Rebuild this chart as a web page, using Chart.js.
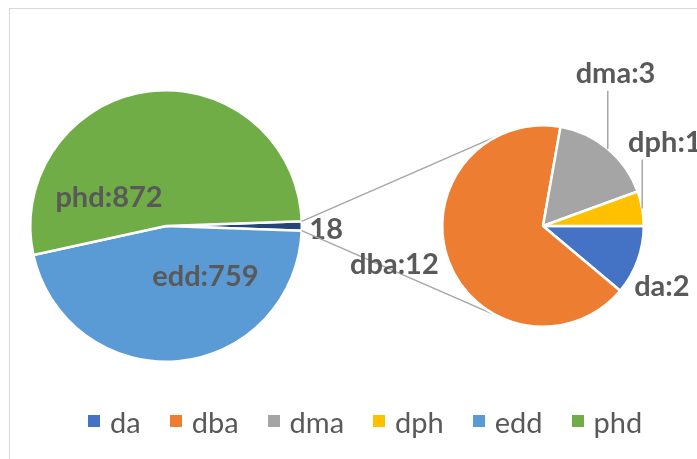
<!DOCTYPE html>
<html>
<head>
<meta charset="utf-8">
<script src="https://cdn.jsdelivr.net/npm/chart.js@4.4.1/dist/chart.umd.min.js"></script>
<style>
  html, body { margin: 0; padding: 0; background: #fff; }
  #wrap { position: relative; width: 697px; height: 459px; overflow: hidden; font-family: Lato, sans-serif; }
  /* light grey chart border, cut off on the right and bottom like the screenshot */
  #frame { position: absolute; left: 9px; top: 8px; width: 800px; height: 600px; border: 1.5px solid #d9d9d9; }
  canvas { position: absolute; left: 0; top: 0; }
  #legend { position: absolute; left: 88px; top: 404px; height: 34px; display: flex; align-items: center; color: #595959; font-size: 29px; }
  .item { display: flex; align-items: center; margin-right: 29px; }
  .box { width: 12px; height: 12px; margin-right: 10px; }
</style>
</head>
<body>
<div id="wrap">
  <div id="frame"></div>
  <canvas id="mainPie" width="697" height="459"></canvas>
  <canvas id="subPie" width="697" height="459"></canvas>
  <div id="legend"></div>
</div>
<script>
// ---------------- DATA ----------------
// second plot (small pie on the right)
const subLabels = ['da', 'dba', 'dma', 'dph'];
const subValues = [2, 12, 3, 1];
// first plot, the first slice is the sum of the second plot
const mainLabels = ['other', 'edd', 'phd'];
const mainValues = [18, 759, 872];
// legend order as in the workbook
const legendOrder = ['da', 'dba', 'dma', 'dph', 'edd', 'phd'];

const colors = {
    da: '#4472C4', dba: '#ED7D31', dma: '#A5A5A5', dph: '#FFC000',
    edd: '#5B9BD5', phd: '#70AD47', other: '#264478'
};

const labelFont = 'bold 29px Lato';
const textGrey = '#595959';
const lineGrey = '#a6a6a6';

// ---------------- LABELS ----------------
// spots are offsets from the pie centre in units of the radius
// leaders: draw a vertical line from under the label down to the slice edge
function pieLabels(texts, spots, leaders) {
    return {
        id: 'pieLabels',
        afterDatasetsDraw(chart) {
            const ctx = chart.ctx;
            const arcs = chart.getDatasetMeta(0).data;
            ctx.save();
            ctx.font = labelFont;
            ctx.fillStyle = textGrey;
            ctx.textAlign = 'center';
            ctx.textBaseline = 'middle';
            arcs.forEach((arc, i) => {
                const p = arc.getProps(['x', 'y', 'outerRadius', 'startAngle', 'endAngle'], true);
                const tx = p.x + spots[i][0] * p.outerRadius;
                const ty = p.y + spots[i][1] * p.outerRadius;
                if (leaders && leaders[i]) {
                    const mid = (p.startAngle + p.endAngle) / 2;
                    const ex = p.x + Math.cos(mid) * p.outerRadius;
                    const ey = p.y + Math.sin(mid) * p.outerRadius;
                    ctx.strokeStyle = lineGrey;
                    ctx.lineWidth = 1.5;
                    ctx.beginPath();
                    ctx.moveTo(ex, ty + 17);
                    ctx.lineTo(ex, ey);
                    ctx.stroke();
                }
                ctx.fillText(texts[i], tx, ty);
            });
            ctx.restore();
        }
    };
}

// lines from the corners of the "other" slice to the tangent points of the small pie
const connectors = {
    id: 'connectors',
    beforeDatasetsDraw(chart) {
        const big = Chart.getChart('mainPie');
        if (!big) return;
        const o = big.getDatasetMeta(0).data[0].getProps(['x', 'y', 'outerRadius', 'startAngle', 'endAngle'], true);
        const s = chart.getDatasetMeta(0).data[0].getProps(['x', 'y', 'outerRadius'], true);
        const ctx = chart.ctx;
        ctx.save();
        ctx.strokeStyle = lineGrey;
        ctx.lineWidth = 1.5;
        [[o.startAngle, 1], [o.endAngle, -1]].forEach(([ang, side]) => {
            const px = o.x + Math.cos(ang) * o.outerRadius;
            const py = o.y + Math.sin(ang) * o.outerRadius;
            const d = Math.hypot(px - s.x, py - s.y);
            const base = Math.atan2(py - s.y, px - s.x);
            const t = base + side * Math.acos(s.outerRadius / d);
            ctx.beginPath();
            ctx.moveTo(px, py);
            ctx.lineTo(s.x + Math.cos(t) * s.outerRadius, s.y + Math.sin(t) * s.outerRadius);
            ctx.stroke();
        });
        ctx.restore();
    }
};

function draw() {
    const mainTotal = mainValues.reduce((a, b) => a + b, 0);

    // ---------------- MAIN PIE ----------------
    new Chart(document.getElementById('mainPie'), {
        type: 'pie',
        data: {
            labels: mainLabels,
            datasets: [{
                data: mainValues,
                backgroundColor: mainLabels.map(l => colors[l]),
                borderColor: '#ffffff',
                borderWidth: 2.5
            }]
        },
        options: {
            responsive: false,
            animation: false,
            // centre the "other" slice on 3 o'clock
            rotation: 90 - (mainValues[0] / mainTotal) * 180,
            layout: { padding: { left: 29, right: 394, top: 89, bottom: 96 } },
            plugins: { legend: { display: false }, tooltip: { enabled: false } }
        },
        plugins: [pieLabels(
            mainLabels.map((l, i) => l === 'other' ? String(mainValues[i]) : l + ':' + mainValues[i]),
            [[1.18, 0.03], [0.29, 0.375], [-0.42, -0.21]]
        )]
    });

    // ---------------- SECOND PIE ----------------
    new Chart(document.getElementById('subPie'), {
        type: 'pie',
        data: {
            labels: subLabels,
            datasets: [{
                data: subValues,
                backgroundColor: subLabels.map(l => colors[l]),
                borderColor: '#ffffff',
                borderWidth: 2.5
            }]
        },
        options: {
            responsive: false,
            animation: false,
            rotation: 90, // first slice starts at 3 o'clock
            layout: { padding: { left: 441, right: 52, top: 124, bottom: 131 } },
            plugins: { legend: { display: false }, tooltip: { enabled: false } }
        },
        plugins: [connectors, pieLabels(
            subLabels.map((l, i) => l + ':' + subValues[i]),
            [[1.18, 0.60], [-1.475, 0.386], [0.72, -1.51], [1.21, -0.83]],
            [false, false, true, true]
        )]
    });

    // ---------------- LEGEND ----------------
    const legendEl = document.getElementById('legend');
    legendOrder.forEach(name => {
        const item = document.createElement('div');
        item.className = 'item';
        const box = document.createElement('span');
        box.className = 'box';
        box.style.background = colors[name];
        const txt = document.createElement('span');
        txt.textContent = name;
        item.appendChild(box);
        item.appendChild(txt);
        legendEl.appendChild(item);
    });
}

document.fonts.load(labelFont).then(draw, draw);
</script>
</body>
</html>
